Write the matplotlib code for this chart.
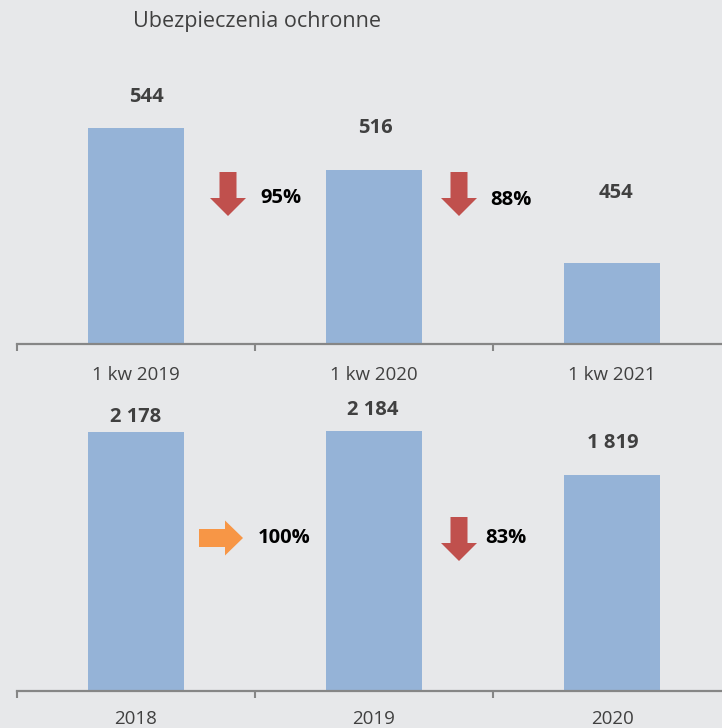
import matplotlib.pyplot as plt
from matplotlib.patches import Polygon

plt.rcParams["font.family"] = ["Open Sans", "DejaVu Sans"]

# data
title = "Ubezpieczenia ochronne"
quarter_labels = ["1 kw 2019", "1 kw 2020", "1 kw 2021"]
quarter_values = [544, 516, 454]
year_labels = ["2018", "2019", "2020"]
year_values = [2178, 2184, 1819]

BG = "#e7e8ea"
BAR = "#95b3d7"
RED = "#c0504d"
ORANGE = "#f79646"
TEXT = "#404040"
AXIS = "#868686"

W, H = 722, 728
fig = plt.figure(figsize=(W / 100, H / 100), dpi=100, facecolor=BG)


def fmt(v):
    return f"{v:,}".replace(",", " ")


def add_panel(bottom_px, ylim, px_per_unit, labels, values, label_offsets, tick_pad):
    height_px = (ylim[1] - ylim[0]) * px_per_unit
    ax = fig.add_axes([17 / W, (H - bottom_px) / H, 714 / W, height_px / H])
    ax.set_facecolor("none")
    x = list(range(len(values)))
    ax.bar(x, values, width=0.4, color=BAR, zorder=2)
    ax.set_xlim(-0.5, 2.5)
    ax.set_ylim(*ylim)
    for side in ("left", "right", "top"):
        ax.spines[side].set_visible(False)
    ax.spines["bottom"].set_color(AXIS)
    ax.spines["bottom"].set_linewidth(1.6)
    ax.set_yticks([])
    ax.set_xticks(x)
    ax.set_xticklabels(labels, fontsize=13.5, color=TEXT)
    ax.tick_params(axis="x", which="major", length=0, pad=tick_pad)
    ax.set_xticks([-0.5, 0.5, 1.5, 2.5], minor=True)
    ax.tick_params(axis="x", which="minor", length=5, width=1.5, color=AXIS)
    for xi, v, (dx, dy) in zip(x, values, label_offsets):
        ax.annotate(fmt(v), (xi, v), xytext=(dx, dy), textcoords="offset pixels",
                    ha="center", va="center", fontsize=14.5, fontweight="bold",
                    color=TEXT, annotation_clip=False)
    return ax


def arrow(cx, cy, direction, color):
    # pixel coords, y measured from the top of the figure
    if direction == "down":
        pts = [(-8.5, -22), (8.5, -22), (8.5, 4), (18, 4), (0, 22), (-18, 4), (-8.5, 4)]
    else:
        pts = [(-22, -9), (4, -9), (4, -17.5), (22, 0), (4, 17.5), (4, 9), (-22, 9)]
    verts = [((cx + px) / W, (H - (cy + py)) / H) for px, py in pts]
    fig.add_artist(Polygon(verts, closed=True, facecolor=color, edgecolor="none",
                           transform=fig.transFigure))


def change(prev, cur, arrow_xy, text_xy):
    pct = round(cur / prev * 100)
    if pct >= 100:
        arrow(*arrow_xy, "right", ORANGE)
    else:
        arrow(*arrow_xy, "down", RED)
    fig.text(text_xy[0] / W, 1 - text_xy[1] / H, f"{pct}%", ha="center", va="center",
             fontsize=14.5, fontweight="bold", color="black")


add_panel(344, (400, 600), 1.5, quarter_labels, quarter_values,
          [(10, 31), (1, 42), (4, 70)], tick_pad=15.5)
add_panel(691, (0, 2500), 0.1189, year_labels, year_values,
          [(0, 15), (-1, 21), (1, 32)], tick_pad=14)

change(quarter_values[0], quarter_values[1], (228, 194), (281, 198))
change(quarter_values[1], quarter_values[2], (459, 194), (511, 200))
change(year_values[0], year_values[1], (221, 538), (284, 538))
change(year_values[1], year_values[2], (459, 539), (506, 538))

fig.text(257 / W, 1 - 21 / H, title, ha="center", va="center", fontsize=15.5, color=TEXT)

fig.savefig("out.png", dpi=100, facecolor=BG)
